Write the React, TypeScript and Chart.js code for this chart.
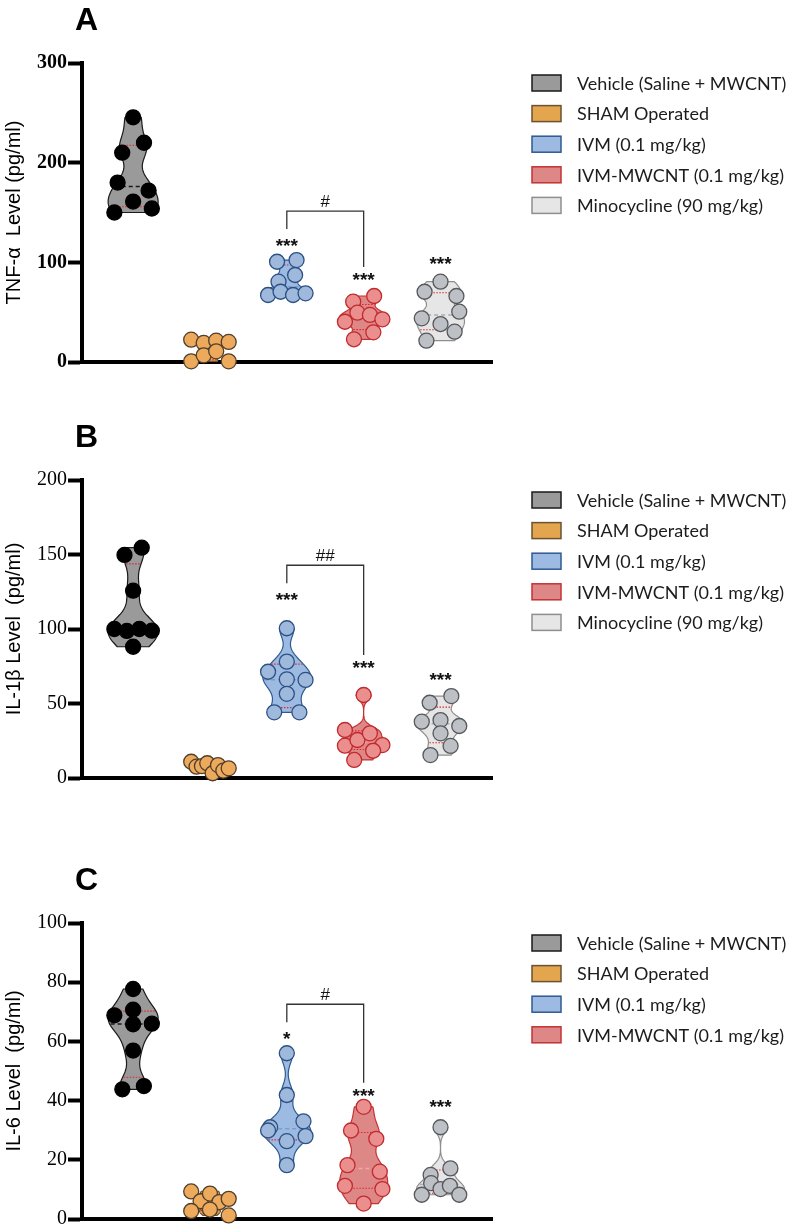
import React, { useEffect, useRef } from "react";
import { Chart, registerables } from "chart.js";

Chart.register(...registerables);

// ---------------- data ----------------
const groupLabels = [
  "Vehicle (Saline + MWCNT)",
  "SHAM Operated",
  "IVM (0.1 mg/kg)",
  "IVM-MWCNT (0.1 mg/kg)",
  "Minocycline (90 mg/kg)",
];

// Panel A: TNF-α (pg/ml)
const tnfVehicle = [245.5, 210, 220, 180, 172, 150, 161, 154];
const tnfSham = [22.4, 19.1, 21.4, 20.1, 0.7, 6.7, 10.7, 0.7];
const tnfIvm = [100.6, 102.3, 80.6, 87.3, 67.2, 70.5, 67.2, 68.9];
const tnfIvmMwcnt = [60.5, 66.2, 40.4, 49.5, 47.2, 42.8, 22.8, 29.8];
const tnfMino = [80.6, 70.5, 66.2, 43.8, 38.1, 50.5, 21.4, 30.4];
const tnfTicks = [0, 100, 200, 300];
const tnfStars = ["", "", "***", "***", "***"];
const tnfHash = "#";

// Panel B: IL-1β (pg/ml)
const il1bVehicle = [149.7, 154.6, 125.7, 100, 98.7, 100, 98.9, 88.1];
const il1bSham = [10.9, 7.6, 8.0, 9.9, 3.2, 8.7, 4.9, 6.5];
const il1bIvm = [100.5, 78.1, 71.3, 66.2, 65.8, 56.5, 44.1, 44.1];
const il1bIvmMwcnt = [55.7, 32.2, 21.7, 25.5, 30, 22.1, 12.1, 18.3];
const il1bMino = [50.5, 55, 38.9, 37.8, 30, 34.9, 15.4, 21.5];
const il1bTicks = [0, 50, 100, 150, 200];
const il1bStars = ["", "", "***", "***", "***"];
const il1bHash = "##";

// Panel C: IL-6 (pg/ml)
const il6Vehicle = [77.7, 70.7, 68.8, 65.8, 66, 56.9, 43.8, 44.9];
const il6Sham = [9.3, 6.0, 8.6, 5.7, 6.8, 2.7, 3.2, 1.2];
const il6Ivm = [56, 41.9, 31, 33, 29.9, 26.3, 28, 18.2];
const il6IvmMwcnt = [37.9, 29.9, 27.1, 18.2, 16, 11.2, 10.1, 5.2];
const il6Mino = [31, 14.9, 17.1, 8.2, 12.1, 10.1, 11.2, 8.2];
const il6Ticks = [0, 20, 40, 60, 80, 100];
const il6Stars = ["", "", "*", "***", "***"];
const il6Hash = "#";

// ---------------- styles ----------------
const VIOLIN_FILL = ["#9a9a9a", "#e3a54d", "#9dbbe2", "#de8787", "#e6e6e6"];
const VIOLIN_EDGE = ["#1a1a1a", "#6a5233", "#2e5a91", "#c53234", "#8e8e8e"];
const POINT_FILL = ["#000000", "#eeaa5c", "#9fb9dc", "#ea8e8e", "#bdc0c4"];
const POINT_EDGE = ["#000000", "#4f3f2b", "#2b5084", "#c02a2e", "#55585c"];
const MEDIAN_COLOR = ["#1a1a1a", "#b7853f", "#7e9cc9", "#efa9a9", "#a9afb7"];
const VIOLIN_HALF = [25, 13, 24, 24, 24];
const POINT_R = 7.5;

type PanelCfg = {
  letter: string;
  yTitle: string;
  ticks: number[];
  boldTicks: boolean;
  series: number[][];
  stars: string[];
  starGap: number[];
  hash: string;
  legend: string[];
  height: number;
  top: number;
  padTop: number;
  padBottom: number;
};

const panels: PanelCfg[] = [
  {
    letter: "A",
    yTitle: "TNF-α  Level (pg/ml)",
    ticks: tnfTicks,
    boldTicks: true,
    series: [tnfVehicle, tnfSham, tnfIvm, tnfIvmMwcnt, tnfMino],
    stars: tnfStars,
    starGap: [0, 0, 19, 21, 22],
    hash: tnfHash,
    legend: groupLabels,
    height: 400,
    top: 0,
    padTop: 63,
    padBottom: 38,
  },
  {
    letter: "B",
    yTitle: "IL-1β Level  (pg/ml)",
    ticks: il1bTicks,
    boldTicks: false,
    series: [il1bVehicle, il1bSham, il1bIvm, il1bIvmMwcnt, il1bMino],
    stars: il1bStars,
    starGap: [0, 0, 33, 32, 21],
    hash: il1bHash,
    legend: groupLabels,
    height: 420,
    top: 400,
    padTop: 80,
    padBottom: 42,
  },
  {
    letter: "C",
    yTitle: "IL-6 Level  (pg/ml)",
    ticks: il6Ticks,
    boldTicks: false,
    series: [il6Vehicle, il6Sham, il6Ivm, il6IvmMwcnt, il6Mino],
    stars: il6Stars,
    starGap: [0, 0, 19, 16, 25],
    hash: il6Hash,
    legend: groupLabels.slice(0, 4),
    height: 412,
    top: 820,
    padTop: 103,
    padBottom: 9,
  },
];

// ---------------- statistics ----------------
function quantile(s: number[], p: number) {
  const n = s.length;
  const pos = (n + 1) * p;
  const lo = Math.floor(pos);
  const frac = pos - lo;
  if (lo < 1) return s[0];
  if (lo >= n) return s[n - 1];
  return s[lo - 1] + frac * (s[lo] - s[lo - 1]);
}

function groupStats(values: number[]) {
  const s = [...values].sort((a, b) => a - b);
  const n = s.length;
  const mean = s.reduce((a, b) => a + b, 0) / n;
  const sd = Math.sqrt(s.reduce((a, b) => a + (b - mean) ** 2, 0) / (n - 1));
  const q1 = quantile(s, 0.25);
  const med = quantile(s, 0.5);
  const q3 = quantile(s, 0.75);
  const spread = Math.min(sd, (q3 - q1) / 1.34) || sd;
  const h = 0.6 * 0.9 * spread * Math.pow(n, -0.2);
  const dens = (v: number) =>
    s.reduce((a, x) => a + Math.exp(-0.5 * ((v - x) / h) ** 2), 0);
  let maxD = 0;
  for (let i = 0; i <= 200; i++) {
    const v = s[0] + ((s[n - 1] - s[0]) * i) / 200;
    maxD = Math.max(maxD, dens(v));
  }
  return { min: s[0], max: s[n - 1], q1, med, q3, rel: (v: number) => dens(v) / maxD };
}

// Prism-like row swarm: rows of nearby points spread symmetrically
const ROW_H = 13;
const MIN_D = 13;
const MAX_E = 18.75;
const CANDS = [0, -6.25, 6.25, -12.5, 12.5, -18.75, 18.75];

function swarm(values: number[], ys: number[], halfW: (v: number) => number) {
  const n = values.length;
  const order = values.map((_, i) => i).sort((a, b) => ys[b] - ys[a]);
  const off = new Array(n).fill(0);
  const placed: number[] = [];
  let k = 0;
  while (k < n) {
    const first = order[k];
    const row = [first];
    let j = k + 1;
    while (j < n && ys[first] - ys[order[j]] < ROW_H) {
      row.push(order[j]);
      j++;
    }
    row.sort((a, b) => a - b);
    if (row.length === 1) {
      const i = row[0];
      let best = 0;
      let bestD = -1;
      for (const c of CANDS) {
        let md = Infinity;
        for (const p of placed) md = Math.min(md, Math.hypot(c - off[p], ys[i] - ys[p]));
        if (md >= MIN_D) {
          best = c;
          break;
        }
        if (md > bestD) {
          bestD = md;
          best = c;
        }
      }
      off[i] = best;
    } else {
      const meanV = row.reduce((a, i) => a + values[i], 0) / row.length;
      const E = row.length >= 3 ? MAX_E : Math.min(MAX_E, 0.8 * halfW(meanV));
      row.forEach((i, r) => {
        off[i] = -E + (2 * E * r) / (row.length - 1);
      });
    }
    placed.push(...row);
    k = j;
  }
  return off;
}

function makePlugin(panel: PanelCfg) {
  const stats = panel.series.map(groupStats);
  const halfW = (g: number, v: number) => VIOLIN_HALF[g] * stats[g].rel(v);
  const starCenter = (chart: any, g: number) =>
    chart.scales.y.getPixelForValue(stats[g].max) - panel.starGap[g];

  return {
    id: "panelDecor",
    afterDatasetsUpdate(chart: any) {
      const xs = chart.scales.x;
      panel.series.forEach((vals, g) => {
        const meta = chart.getDatasetMeta(g);
        const ys = meta.data.map((p: any) => p.y);
        const off = swarm(vals, ys, (v) => halfW(g, v));
        const cx = xs.getPixelForValue(g);
        meta.data.forEach((p: any, i: number) => {
          p.x = cx + off[i];
        });
      });
    },
    beforeDatasetsDraw(chart: any) {
      const ctx = chart.ctx as CanvasRenderingContext2D;
      const xs = chart.scales.x;
      const ys = chart.scales.y;
      stats.forEach((st, g) => {
        const cx = xs.getPixelForValue(g);
        const N = 100;
        ctx.save();
        ctx.beginPath();
        for (let i = 0; i <= N; i++) {
          const v = st.min + ((st.max - st.min) * i) / N;
          const x = cx - halfW(g, v);
          const y = ys.getPixelForValue(v);
          if (i === 0) ctx.moveTo(x, y);
          else ctx.lineTo(x, y);
        }
        for (let i = N; i >= 0; i--) {
          const v = st.min + ((st.max - st.min) * i) / N;
          ctx.lineTo(cx + halfW(g, v), ys.getPixelForValue(v));
        }
        ctx.closePath();
        ctx.fillStyle = VIOLIN_FILL[g];
        ctx.fill();
        ctx.lineJoin = "round";
        ctx.lineWidth = 1.2;
        ctx.strokeStyle = VIOLIN_EDGE[g];
        ctx.stroke();
        const hline = (v: number, color: string, dash: number[], lw: number) => {
          const w = halfW(g, v) - 1;
          const y = ys.getPixelForValue(v);
          ctx.beginPath();
          ctx.setLineDash(dash);
          ctx.strokeStyle = color;
          ctx.lineWidth = lw;
          ctx.moveTo(cx - w, y);
          ctx.lineTo(cx + w, y);
          ctx.stroke();
        };
        hline(st.med, MEDIAN_COLOR[g], [4, 3], 1.5);
        hline(st.q1, "#e3262d", [1.5, 1.5], 1.1);
        hline(st.q3, "#e3262d", [1.5, 1.5], 1.1);
        ctx.restore();
      });
    },
    afterDatasetsDraw(chart: any) {
      const ctx = chart.ctx as CanvasRenderingContext2D;
      const xs = chart.scales.x;
      ctx.save();
      ctx.fillStyle = "#111";
      ctx.textAlign = "center";
      ctx.textBaseline = "alphabetic";
      ctx.font = 'bold 19px "Liberation Sans"';
      panel.stars.forEach((txt, g) => {
        if (!txt) return;
        ctx.fillText(txt, xs.getPixelForValue(g), starCenter(chart, g) + 0.57 * 19);
      });
      // bracket between IVM and IVM-MWCNT
      const x2 = xs.getPixelForValue(2);
      const x3 = xs.getPixelForValue(3);
      const lc = starCenter(chart, 2);
      const rc = starCenter(chart, 3);
      const top = lc - 30;
      ctx.beginPath();
      ctx.strokeStyle = "#333";
      ctx.lineWidth = 1.3;
      ctx.moveTo(x2, lc - 12);
      ctx.lineTo(x2, top);
      ctx.lineTo(x3, top);
      ctx.lineTo(x3, rc - 8);
      ctx.stroke();
      ctx.font = '17px "Liberation Sans"';
      ctx.fillText(panel.hash, (x2 + x3) / 2, top - 10 + 0.36 * 17);
      ctx.restore();
    },
    afterDraw(chart: any) {
      const ctx = chart.ctx as CanvasRenderingContext2D;
      const area = chart.chartArea;
      ctx.save();
      // panel letter
      ctx.fillStyle = "#000";
      ctx.textAlign = "left";
      ctx.textBaseline = "alphabetic";
      ctx.font = 'bold 32px "Liberation Sans"';
      ctx.fillText(panel.letter, area.left - 7, area.top - 33);
      // legend
      ctx.font = "18px Lato";
      ctx.textBaseline = "middle";
      panel.legend.forEach((label, i) => {
        const yc = area.top + 20 + i * 30.6;
        const bx = area.right + 40;
        ctx.fillStyle = VIOLIN_FILL[i];
        ctx.fillRect(bx, yc - 8, 29, 16);
        ctx.strokeStyle = VIOLIN_EDGE[i];
        ctx.lineWidth = 1.5;
        ctx.strokeRect(bx, yc - 8, 29, 16);
        ctx.fillStyle = "#1c1c1c";
        ctx.fillText(label, area.right + 85, yc + 1);
      });
      ctx.restore();
    },
  };
}

function buildConfig(panel: PanelCfg): any {
  const datasets = panel.series.map((vals, g) => ({
    label: groupLabels[g],
    data: vals.map((v) => ({ x: g, y: v })),
    pointRadius: POINT_R,
    pointHoverRadius: POINT_R,
    pointBackgroundColor: POINT_FILL[g],
    pointBorderColor: POINT_EDGE[g],
    pointBorderWidth: 1.3,
    showLine: false,
    clip: false,
  }));
  const yMax = panel.ticks[panel.ticks.length - 1];
  return {
    type: "scatter",
    data: { datasets },
    plugins: [makePlugin(panel)],
    options: {
      responsive: false,
      animation: false,
      events: [],
      layout: {
        autoPadding: false,
        padding: { left: 0, right: 300, top: panel.padTop, bottom: panel.padBottom },
      },
      plugins: { legend: { display: false }, tooltip: { enabled: false } },
      scales: {
        x: {
          type: "linear",
          min: -0.665,
          max: 4.67,
          grid: { display: false },
          ticks: { display: false },
          border: { display: true, width: 4, color: "#000" },
          afterFit: (s: any) => {
            s.height = 0;
          },
        },
        y: {
          type: "linear",
          min: 0,
          max: yMax,
          afterBuildTicks: (s: any) => {
            s.ticks = panel.ticks.map((v) => ({ value: v }));
          },
          ticks: {
            color: "#000",
            padding: 1,
            font: {
              family: '"Liberation Serif"',
              size: 20,
              weight: panel.boldTicks ? "bold" : "normal",
            },
          },
          grid: {
            display: true,
            drawOnChartArea: false,
            drawTicks: true,
            tickLength: 14,
            tickWidth: 4,
            tickColor: "#000",
            color: "#000",
          },
          border: { display: true, width: 4, color: "#000" },
          title: {
            display: true,
            text: panel.yTitle,
            color: "#000",
            padding: { top: 2, bottom: 0 },
            font: { family: '"Liberation Sans"', size: 20 },
          },
          afterFit: (s: any) => {
            s.width = 82;
          },
        },
      },
    },
  };
}

function PanelChart({ panel }: { panel: PanelCfg }) {
  const ref = useRef<HTMLCanvasElement>(null);
  useEffect(() => {
    if (!ref.current) return;
    const chart = new Chart(ref.current, buildConfig(panel));
    return () => chart.destroy();
  }, [panel]);
  return (
    <canvas
      ref={ref}
      width={792}
      height={panel.height}
      style={{ position: "absolute", left: 0, top: panel.top, width: 792, height: panel.height }}
    />
  );
}

export default function App() {
  return (
    <div
      style={{
        position: "absolute",
        left: 0,
        top: 0,
        width: 792,
        height: 1232,
        background: "#ffffff",
        overflow: "hidden",
      }}
    >
      {panels.map((p) => (
        <PanelChart key={p.letter} panel={p} />
      ))}
    </div>
  );
}
